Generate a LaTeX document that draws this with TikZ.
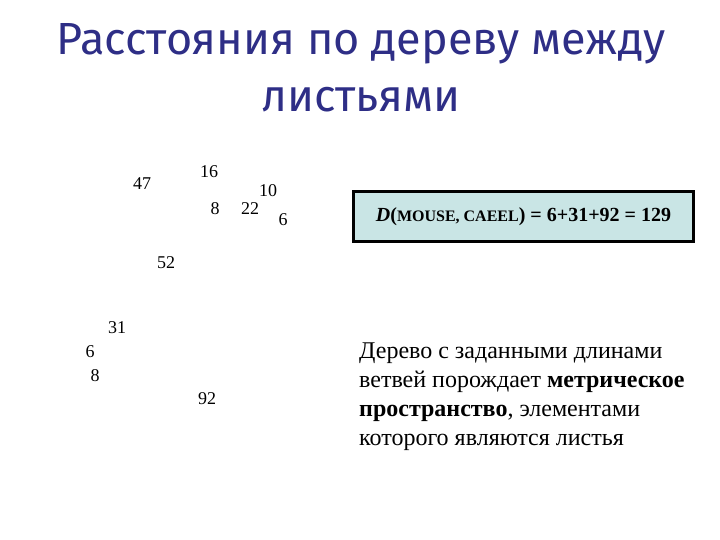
\documentclass[tikz,border=0pt]{standalone}
\usepackage{fontspec}
\setmainfont{Liberation Serif}
\newfontfamily\titlefont{Fira Sans}
\usepackage{xcolor}
\usetikzlibrary{positioning}
\definecolor{ttlblue}{HTML}{2E2E86}
\definecolor{boxcyan}{HTML}{C9E5E5}

\begin{document}
\begin{tikzpicture}[
  x=1pt, y=-1pt,
  every node/.style={inner sep=0pt},
  ttl/.style={font=\titlefont\fontsize{45}{50}\selectfont, text=ttlblue},
  len/.style={font=\fontsize{18}{20}\selectfont},
  dbox/.style={rectangle, draw=black, line width=2.2pt, fill=boxcyan, minimum width=340pt, minimum height=50pt, align=center, font=\bfseries\fontsize{20}{22}\selectfont},
  note/.style={align=left, anchor=north west, font=\fontsize{24}{29}\selectfont},
]
\useasboundingbox (0,0) rectangle (720,540);

% Title
\node[ttl] (ttl1) at (361, 44) {Расстояния по дереву между};
\node[ttl] (ttl2) at (361, 100) {листьями};

% Branch lengths
\node[len] (l47) at (142, 184) {47};
\node[len] (l16) at (209, 172) {16};
\node[len] (l10) at (268, 191) {10};
\node[len] (l8a) at (215, 209) {8};
\node[len] (l22) at (250, 209) {22};
\node[len] (l6a) at (283, 220) {6};
\node[len] (l52) at (166, 263) {52};
\node[len] (l31) at (117, 328) {31};
\node[len] (l6b) at (90, 352) {6};
\node[len] (l8b) at (95, 376) {8};
\node[len] (l92) at (207, 399) {92};

% Distance box
\node[dbox] (dist) at (523.5, 216.5) {\textit{D}({\fontsize{16}{18}\selectfont MOUSE, CAEEL}) = 6+31+92 = 129};

% Note
\node[note] (txt) at (359, 343) {Дерево с заданными длинами\\ветвей порождает \textbf{метрическое}\\\textbf{пространство}, элементами\\которого являются листья};

\end{tikzpicture}
\end{document}
